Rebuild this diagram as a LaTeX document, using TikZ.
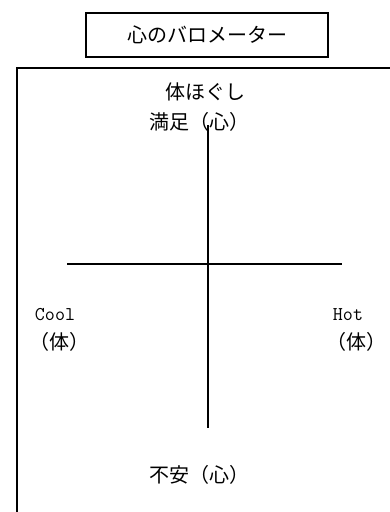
\documentclass[tikz,border=0pt]{standalone}
\usepackage{fontspec}
\newfontfamily\jp{Noto Sans CJK JP}
\begin{document}
\begin{tikzpicture}[x=1pt,y=-1pt,
  jtext/.style={inner sep=0pt, font=\jp\fontsize{20}{20}\selectfont},
  ltext/.style={inner sep=0pt, font=\ttfamily\fontsize{19.5}{19.5}\selectfont},
  axis/.style={line width=2pt},
  frame/.style={line width=2pt}]
\clip (0,0) rectangle (390,512);
\fill[white] (0,0) rectangle (390,512);
% outer frame (extends past right and bottom edges)
\draw[frame] (17,530) -- (17,68) -- (400,68);
% title box
\node[draw, line width=2.2pt, minimum width=242pt, minimum height=44pt, inner sep=0pt,
      font=\jp\fontsize{20}{20}\selectfont] (title) at (207,35) {心のバロメーター};
% labels
\node[jtext] (top1) at (205,92) {体ほぐし};
\node[jtext] (top2) at (199,122) {満足（心）};
\node[ltext] (cool) at (55,315) {Cool};
\node[jtext] (coolb) at (60,342) {（体）};
\node[ltext] (hot) at (348,315) {Hot};
\node[jtext] (hotb) at (356,342) {（体）};
\node[jtext] (bottom) at (199,475) {不安（心）};
% axes
\coordinate (vtop) at (208,125);
\coordinate (vbot) at (208,428);
\coordinate (hleft) at (67,264);
\coordinate (hright) at (342,264);
\draw[axis] (vtop) -- (vbot);
\draw[axis] (hleft) -- (hright);
\end{tikzpicture}
\end{document}
